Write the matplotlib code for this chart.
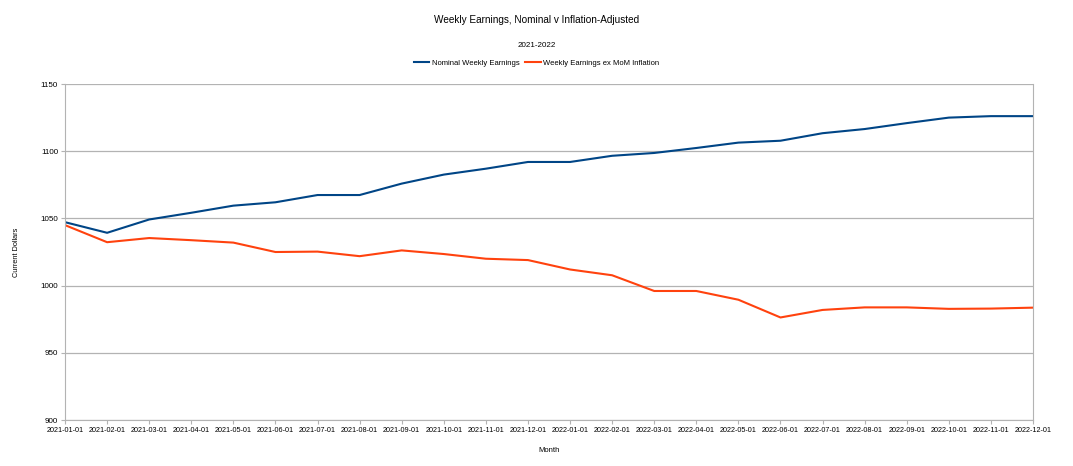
import pandas as pd
import matplotlib
matplotlib.use("Agg")
import matplotlib.pyplot as plt

plt.rcParams['font.family'] = ['Liberation Sans', 'DejaVu Sans']

months = pd.date_range("2021-01-01", "2022-12-01", freq="MS").strftime("%Y-%m-%d").tolist()

nominal = [1047.2, 1039.3, 1049.2, 1054.2, 1059.5, 1062.0, 1067.4, 1067.4,
           1075.9, 1082.6, 1087.0, 1092.0, 1092.0, 1096.6, 1098.7, 1102.4,
           1106.4, 1107.8, 1113.4, 1116.5, 1120.9, 1125.0, 1126.1, 1126.1]

adjusted = [1045.0, 1032.3, 1035.4, 1033.8, 1032.0, 1025.0, 1025.3, 1021.9,
            1026.2, 1023.5, 1020.0, 1019.0, 1012.0, 1007.7, 996.0, 996.0,
            989.5, 976.3, 981.9, 983.8, 983.8, 982.7, 982.9, 983.6]

blue = '#004586'
orange = '#ff420e'
grey = '#b3b3b3'

fig = plt.figure(figsize=(10.73, 4.66), dpi=100)
ax = fig.add_axes([0.0606, 0.0987, 0.9021, 0.721])

x = list(range(len(months)))
ax.plot(x, nominal, color=blue, linewidth=1.5, label='Nominal Weekly Earnings')
ax.plot(x, adjusted, color=orange, linewidth=1.5, label='Weekly Earnings ex MoM Inflation')

ax.set_xlim(0, len(months) - 1)
ax.set_ylim(900, 1150)
ax.set_yticks([900, 950, 1000, 1050, 1100, 1150])
ax.set_xticks(x)
ax.set_xticklabels(months)
ax.tick_params(axis='both', labelsize=5.8, color=grey, length=3, pad=2)
ax.tick_params(axis='x', labelsize=5.2)
ax.grid(axis='y', color=grey, linewidth=0.9)
ax.set_axisbelow(True)
for s in ['left', 'bottom', 'right']:
    ax.spines[s].set_color(grey)
ax.spines['top'].set_visible(False)

ax.set_xlabel('Month', fontsize=5.5)
ax.xaxis.set_label_coords(0.5, -0.08)
ax.set_ylabel('Current Dollars', fontsize=5.3)
ax.yaxis.set_label_coords(-0.047, 0.5)

fig.text(0.5, 0.957, 'Weekly Earnings, Nominal v Inflation-Adjusted', ha='center', va='center', fontsize=7.2)
fig.text(0.5, 0.903, '2021-2022', ha='center', va='center', fontsize=5.8)
fig.legend(loc='center', bbox_to_anchor=(0.5, 0.865), ncol=2, frameon=False,
           fontsize=5.5, handlelength=2.0, handletextpad=0.3, columnspacing=0.8)

fig.savefig('out.png', dpi=100)
